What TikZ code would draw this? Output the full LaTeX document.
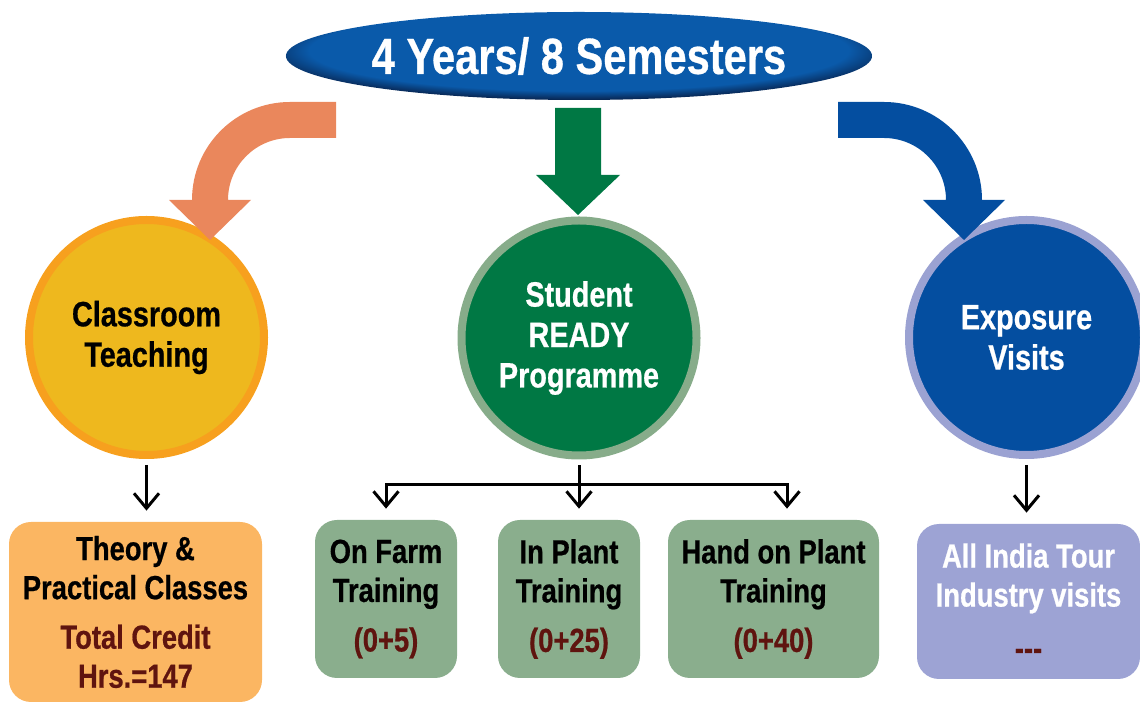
\documentclass[tikz,border=0pt]{standalone}
\usepackage{fontspec}
\newfontfamily\narrowfont[FakeStretch=0.82, BoldFeatures={FakeBold=0.6}]{Liberation Sans}
\usetikzlibrary{calc}
\usetikzlibrary{shapes.geometric}
\usetikzlibrary{arrows.meta}

\definecolor{titleblue}{RGB}{10,90,170}
\definecolor{titlenavy}{RGB}{8,32,72}
\definecolor{classfill}{RGB}{238,184,30}
\definecolor{classring}{RGB}{247,160,30}
\definecolor{classarrow}{RGB}{234,135,92}
\definecolor{readyfill}{RGB}{0,120,68}
\definecolor{readyring}{RGB}{135,172,138}
\definecolor{visitfill}{RGB}{4,78,160}
\definecolor{visitring}{RGB}{155,162,210}
\definecolor{theoryfill}{RGB}{251,182,98}
\definecolor{trainfill}{RGB}{138,174,141}
\definecolor{tourfill}{RGB}{157,163,212}
\definecolor{credit}{RGB}{95,20,15}

\newdimen\pxu
\pxu=0.2mm

\pgfdeclareradialshading{titleshade}{\pgfpoint{0bp}{6bp}}{color(0bp)=(titleblue); color(23bp)=(titleblue); color(28bp)=(titlenavy); color(50bp)=(titlenavy)}

\begin{document}
\begin{tikzpicture}[x=0.2mm, y=-0.2mm,
  every node/.style={align=center, inner sep=0pt},
  hub/.style={circle, minimum size=235\pxu, line width=8\pxu,
    font=\narrowfont\bfseries\fontsize{20}{23}\selectfont},
  card/.style={rounded corners=22\pxu,
    font=\narrowfont\bfseries\fontsize{19}{22.2}\selectfont},
  flow/.style={line width=3\pxu, -{Straight Barb[length=3mm, width=5mm]},
    shorten >=11\pxu}]
  \useasboundingbox (0,0) rectangle (1140,703);

  \node[ellipse, shading=titleshade, minimum width=586\pxu, minimum height=88\pxu,
    text=white, font=\narrowfont\bfseries\fontsize{28.9}{34}\selectfont]
    (title) at (579,56) {4 Years/ 8 Semesters};

  \node[hub, fill=classfill, draw=classring] (class) at (146.5,337.5)
    {Classroom\\Teaching};
  \node[hub, fill=readyfill, draw=readyring, text=white] (ready) at (579,338)
    {Student\\READY\\Programme};
  \node[hub, fill=visitfill, draw=visitring, text=white] (visit) at (1026.5,337.5)
    {Exposure\\Visits};

  % block arrows from the title
  \fill[classarrow] (336,102) -- (290,102) arc[start angle=270, end angle=180, radius=98]
    -- (169,200) -- (210,240) -- (251,200) -- (228,200)
    arc[start angle=180, end angle=270, radius=62] -- (336,138) -- cycle;
  \fill[readyfill] (555,108) -- (601,108) -- (601,175) -- (620,175) -- (578,215)
    -- (536,175) -- (555,175) -- cycle;
  \fill[visitfill] (838,102) -- (884,102) arc[start angle=270, end angle=360, radius=98]
    -- (1005,200) -- (964,240) -- (923,200) -- (946,200)
    arc[start angle=0, end angle=-90, radius=62] -- (838,138) -- cycle;

  \node[card, fill=theoryfill, minimum width=253\pxu, minimum height=180\pxu]
    (theory) at (135.5,612)
    {Theory \&\\Practical Classes\\[6pt]\textcolor{credit}{Total Credit}\\
     \textcolor{credit}{Hrs.=147}};
  \node[card, fill=trainfill, minimum width=142\pxu, minimum height=158\pxu]
    (farm) at (386,599) {On Farm\\Training\\[6pt]\textcolor{credit}{(0+5)}};
  \node[card, fill=trainfill, minimum width=142\pxu, minimum height=158\pxu]
    (plant) at (569,599) {In Plant\\Training\\[6pt]\textcolor{credit}{(0+25)}};
  \node[card, fill=trainfill, minimum width=211\pxu, minimum height=158\pxu]
    (hand) at (773.5,599) {Hand on Plant\\Training\\[6pt]\textcolor{credit}{(0+40)}};
  \node[card, fill=tourfill, minimum width=223\pxu, minimum height=155\pxu, text=white]
    (tour) at (1028.5,601.5)
    {All India Tour\\Industry visits\\[8pt]\textcolor{credit}{-{}-{}-}};

  \draw[flow] (class.south) ++(0,6) -- (class.south |- theory.north);
  \draw[flow] (visit.south) ++(0,6) -- (visit.south |- tour.north);

  \draw[line width=3\pxu] (ready.south) ++(0,6) -- ++(0,19) coordinate (fork);
  \draw[flow] (fork) -| (farm.north);
  \draw[flow] (fork) -- (fork |- plant.north);
  \draw[flow] (fork) -| ($(hand.north)+(13.5,0)$);
\end{tikzpicture}
\end{document}
